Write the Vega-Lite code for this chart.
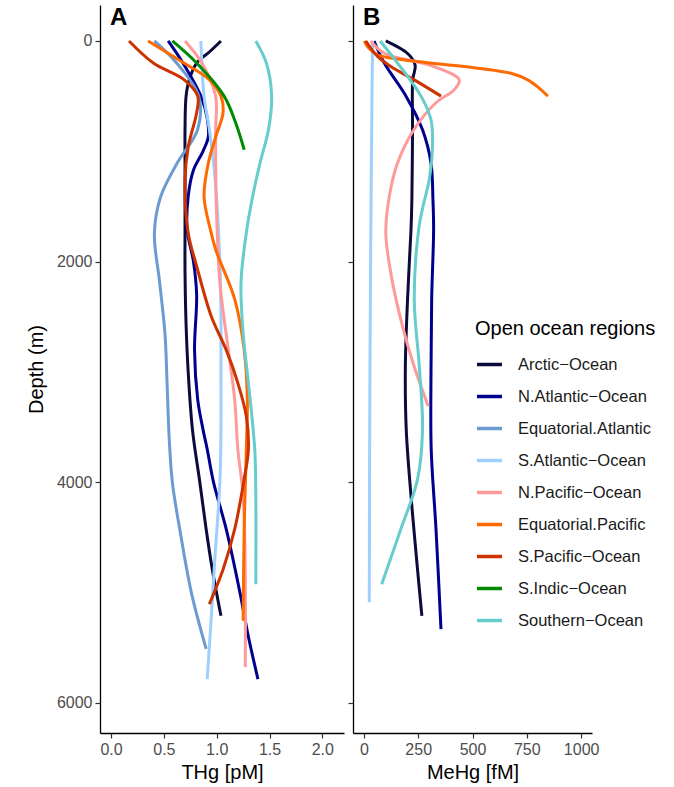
{
  "$schema": "https://vega.github.io/schema/vega-lite/v6.json",
  "padding": {"left": 26, "top": 5, "right": 5, "bottom": 5},
  "spacing": 3,
  "config": {
    "font": "Liberation Sans",
    "view": {"stroke": null},
    "axis": {
      "grid": false,
      "domainColor": "#000000",
      "domainWidth": 1.3,
      "tickColor": "#333333",
      "tickWidth": 1.2,
      "tickSize": 5,
      "labelColor": "#4d4d4d",
      "labelFontSize": 16,
      "labelPadding": 3,
      "titleFontSize": 20,
      "titleFontWeight": "normal",
      "titleColor": "#000000"
    }
  },
  "datasets": {
    "thg": [
      {"region": "Arctic−Ocean", "depth": 0, "thg": 1.04},
      {"region": "Arctic−Ocean", "depth": 100, "thg": 0.93},
      {"region": "Arctic−Ocean", "depth": 200, "thg": 0.81},
      {"region": "Arctic−Ocean", "depth": 350, "thg": 0.74},
      {"region": "Arctic−Ocean", "depth": 500, "thg": 0.71},
      {"region": "Arctic−Ocean", "depth": 800, "thg": 0.70},
      {"region": "Arctic−Ocean", "depth": 1100, "thg": 0.70},
      {"region": "Arctic−Ocean", "depth": 1440, "thg": 0.70},
      {"region": "Arctic−Ocean", "depth": 1710, "thg": 0.70},
      {"region": "Arctic−Ocean", "depth": 2100, "thg": 0.70},
      {"region": "Arctic−Ocean", "depth": 2570, "thg": 0.71},
      {"region": "Arctic−Ocean", "depth": 3000, "thg": 0.73},
      {"region": "Arctic−Ocean", "depth": 3520, "thg": 0.77},
      {"region": "Arctic−Ocean", "depth": 4000, "thg": 0.84},
      {"region": "Arctic−Ocean", "depth": 4425, "thg": 0.90},
      {"region": "Arctic−Ocean", "depth": 4800, "thg": 0.96},
      {"region": "Arctic−Ocean", "depth": 5210, "thg": 1.04},

      {"region": "N.Atlantic−Ocean", "depth": 0, "thg": 0.54},
      {"region": "N.Atlantic−Ocean", "depth": 200, "thg": 0.68},
      {"region": "N.Atlantic−Ocean", "depth": 500, "thg": 0.85},
      {"region": "N.Atlantic−Ocean", "depth": 700, "thg": 0.91},
      {"region": "N.Atlantic−Ocean", "depth": 870, "thg": 0.92},
      {"region": "N.Atlantic−Ocean", "depth": 1000, "thg": 0.87},
      {"region": "N.Atlantic−Ocean", "depth": 1170, "thg": 0.78},
      {"region": "N.Atlantic−Ocean", "depth": 1410, "thg": 0.73},
      {"region": "N.Atlantic−Ocean", "depth": 1710, "thg": 0.72},
      {"region": "N.Atlantic−Ocean", "depth": 2000, "thg": 0.78},
      {"region": "N.Atlantic−Ocean", "depth": 2300, "thg": 0.81},
      {"region": "N.Atlantic−Ocean", "depth": 2800, "thg": 0.79},
      {"region": "N.Atlantic−Ocean", "depth": 3250, "thg": 0.82},
      {"region": "N.Atlantic−Ocean", "depth": 3520, "thg": 0.87},
      {"region": "N.Atlantic−Ocean", "depth": 3700, "thg": 0.91},
      {"region": "N.Atlantic−Ocean", "depth": 4000, "thg": 0.97},
      {"region": "N.Atlantic−Ocean", "depth": 4425, "thg": 1.09},
      {"region": "N.Atlantic−Ocean", "depth": 5000, "thg": 1.22},
      {"region": "N.Atlantic−Ocean", "depth": 5400, "thg": 1.30},
      {"region": "N.Atlantic−Ocean", "depth": 5783, "thg": 1.39},

      {"region": "Equatorial.Atlantic", "depth": 0, "thg": 0.41},
      {"region": "Equatorial.Atlantic", "depth": 200, "thg": 0.62},
      {"region": "Equatorial.Atlantic", "depth": 500, "thg": 0.83},
      {"region": "Equatorial.Atlantic", "depth": 800, "thg": 0.82},
      {"region": "Equatorial.Atlantic", "depth": 1100, "thg": 0.63},
      {"region": "Equatorial.Atlantic", "depth": 1410, "thg": 0.47},
      {"region": "Equatorial.Atlantic", "depth": 1740, "thg": 0.41},
      {"region": "Equatorial.Atlantic", "depth": 2190, "thg": 0.46},
      {"region": "Equatorial.Atlantic", "depth": 2650, "thg": 0.51},
      {"region": "Equatorial.Atlantic", "depth": 3100, "thg": 0.53},
      {"region": "Equatorial.Atlantic", "depth": 3600, "thg": 0.55},
      {"region": "Equatorial.Atlantic", "depth": 4000, "thg": 0.58},
      {"region": "Equatorial.Atlantic", "depth": 4425, "thg": 0.65},
      {"region": "Equatorial.Atlantic", "depth": 5000, "thg": 0.76},
      {"region": "Equatorial.Atlantic", "depth": 5510, "thg": 0.90},

      {"region": "S.Atlantic−Ocean", "depth": 0, "thg": 0.85},
      {"region": "S.Atlantic−Ocean", "depth": 500, "thg": 0.88},
      {"region": "S.Atlantic−Ocean", "depth": 800, "thg": 0.93},
      {"region": "S.Atlantic−Ocean", "depth": 1100, "thg": 0.97},
      {"region": "S.Atlantic−Ocean", "depth": 1440, "thg": 1.00},
      {"region": "S.Atlantic−Ocean", "depth": 2000, "thg": 1.03},
      {"region": "S.Atlantic−Ocean", "depth": 2500, "thg": 1.04},
      {"region": "S.Atlantic−Ocean", "depth": 3000, "thg": 1.04},
      {"region": "S.Atlantic−Ocean", "depth": 3520, "thg": 1.04},
      {"region": "S.Atlantic−Ocean", "depth": 4000, "thg": 1.03},
      {"region": "S.Atlantic−Ocean", "depth": 4726, "thg": 0.98},
      {"region": "S.Atlantic−Ocean", "depth": 5200, "thg": 0.95},
      {"region": "S.Atlantic−Ocean", "depth": 5783, "thg": 0.91},

      {"region": "N.Pacific−Ocean", "depth": 0, "thg": 0.70},
      {"region": "N.Pacific−Ocean", "depth": 200, "thg": 0.86},
      {"region": "N.Pacific−Ocean", "depth": 500, "thg": 0.99},
      {"region": "N.Pacific−Ocean", "depth": 800, "thg": 0.99},
      {"region": "N.Pacific−Ocean", "depth": 1100, "thg": 0.99},
      {"region": "N.Pacific−Ocean", "depth": 1440, "thg": 0.995},
      {"region": "N.Pacific−Ocean", "depth": 2190, "thg": 1.03},
      {"region": "N.Pacific−Ocean", "depth": 2800, "thg": 1.11},
      {"region": "N.Pacific−Ocean", "depth": 3250, "thg": 1.17},
      {"region": "N.Pacific−Ocean", "depth": 3700, "thg": 1.20},
      {"region": "N.Pacific−Ocean", "depth": 4124, "thg": 1.25},
      {"region": "N.Pacific−Ocean", "depth": 4800, "thg": 1.27},
      {"region": "N.Pacific−Ocean", "depth": 5675, "thg": 1.27},

      {"region": "Equatorial.Pacific", "depth": 0, "thg": 0.35},
      {"region": "Equatorial.Pacific", "depth": 200, "thg": 0.69},
      {"region": "Equatorial.Pacific", "depth": 350, "thg": 0.93},
      {"region": "Equatorial.Pacific", "depth": 500, "thg": 1.04},
      {"region": "Equatorial.Pacific", "depth": 650, "thg": 1.06},
      {"region": "Equatorial.Pacific", "depth": 870, "thg": 0.99},
      {"region": "Equatorial.Pacific", "depth": 1110, "thg": 0.92},
      {"region": "Equatorial.Pacific", "depth": 1410, "thg": 0.88},
      {"region": "Equatorial.Pacific", "depth": 1710, "thg": 0.94},
      {"region": "Equatorial.Pacific", "depth": 1890, "thg": 0.99},
      {"region": "Equatorial.Pacific", "depth": 2340, "thg": 1.17},
      {"region": "Equatorial.Pacific", "depth": 2800, "thg": 1.26},
      {"region": "Equatorial.Pacific", "depth": 3250, "thg": 1.29},
      {"region": "Equatorial.Pacific", "depth": 3700, "thg": 1.28},
      {"region": "Equatorial.Pacific", "depth": 4425, "thg": 1.26},
      {"region": "Equatorial.Pacific", "depth": 5255, "thg": 1.25},

      {"region": "S.Pacific−Ocean", "depth": 0, "thg": 0.17},
      {"region": "S.Pacific−Ocean", "depth": 200, "thg": 0.40},
      {"region": "S.Pacific−Ocean", "depth": 350, "thg": 0.69},
      {"region": "S.Pacific−Ocean", "depth": 500, "thg": 0.82},
      {"region": "S.Pacific−Ocean", "depth": 650, "thg": 0.81},
      {"region": "S.Pacific−Ocean", "depth": 960, "thg": 0.73},
      {"region": "S.Pacific−Ocean", "depth": 1260, "thg": 0.70},
      {"region": "S.Pacific−Ocean", "depth": 1740, "thg": 0.73},
      {"region": "S.Pacific−Ocean", "depth": 2040, "thg": 0.81},
      {"region": "S.Pacific−Ocean", "depth": 2500, "thg": 0.95},
      {"region": "S.Pacific−Ocean", "depth": 2800, "thg": 1.09},
      {"region": "S.Pacific−Ocean", "depth": 3100, "thg": 1.20},
      {"region": "S.Pacific−Ocean", "depth": 3400, "thg": 1.28},
      {"region": "S.Pacific−Ocean", "depth": 3700, "thg": 1.30},
      {"region": "S.Pacific−Ocean", "depth": 3970, "thg": 1.26},
      {"region": "S.Pacific−Ocean", "depth": 4425, "thg": 1.17},
      {"region": "S.Pacific−Ocean", "depth": 4790, "thg": 1.06},
      {"region": "S.Pacific−Ocean", "depth": 5104, "thg": 0.93},

      {"region": "S.Indic−Ocean", "depth": 0, "thg": 0.58},
      {"region": "S.Indic−Ocean", "depth": 200, "thg": 0.81},
      {"region": "S.Indic−Ocean", "depth": 500, "thg": 1.07},
      {"region": "S.Indic−Ocean", "depth": 744, "thg": 1.18},
      {"region": "S.Indic−Ocean", "depth": 986, "thg": 1.26},

      {"region": "Southern−Ocean", "depth": 0, "thg": 1.37},
      {"region": "Southern−Ocean", "depth": 200, "thg": 1.47},
      {"region": "Southern−Ocean", "depth": 500, "thg": 1.52},
      {"region": "Southern−Ocean", "depth": 805, "thg": 1.49},
      {"region": "Southern−Ocean", "depth": 1107, "thg": 1.41},
      {"region": "Southern−Ocean", "depth": 1410, "thg": 1.34},
      {"region": "Southern−Ocean", "depth": 1740, "thg": 1.28},
      {"region": "Southern−Ocean", "depth": 2190, "thg": 1.23},
      {"region": "Southern−Ocean", "depth": 2650, "thg": 1.25},
      {"region": "Southern−Ocean", "depth": 3100, "thg": 1.30},
      {"region": "Southern−Ocean", "depth": 3700, "thg": 1.36},
      {"region": "Southern−Ocean", "depth": 4124, "thg": 1.37},
      {"region": "Southern−Ocean", "depth": 4923, "thg": 1.37}
    ],
    "mehg": [
      {"region": "Arctic−Ocean", "depth": 0, "mehg": 101},
      {"region": "Arctic−Ocean", "depth": 120, "mehg": 205},
      {"region": "Arctic−Ocean", "depth": 220, "mehg": 236},
      {"region": "Arctic−Ocean", "depth": 350, "mehg": 225},
      {"region": "Arctic−Ocean", "depth": 805, "mehg": 224},
      {"region": "Arctic−Ocean", "depth": 1440, "mehg": 221},
      {"region": "Arctic−Ocean", "depth": 1710, "mehg": 217},
      {"region": "Arctic−Ocean", "depth": 2344, "mehg": 201},
      {"region": "Arctic−Ocean", "depth": 2948, "mehg": 191},
      {"region": "Arctic−Ocean", "depth": 3520, "mehg": 195},
      {"region": "Arctic−Ocean", "depth": 4124, "mehg": 217},
      {"region": "Arctic−Ocean", "depth": 4726, "mehg": 244},
      {"region": "Arctic−Ocean", "depth": 5210, "mehg": 267},

      {"region": "N.Atlantic−Ocean", "depth": 0, "mehg": 47},
      {"region": "N.Atlantic−Ocean", "depth": 200, "mehg": 94},
      {"region": "N.Atlantic−Ocean", "depth": 500, "mehg": 194},
      {"region": "N.Atlantic−Ocean", "depth": 805, "mehg": 270},
      {"region": "N.Atlantic−Ocean", "depth": 1107, "mehg": 309},
      {"region": "N.Atlantic−Ocean", "depth": 1440, "mehg": 318},
      {"region": "N.Atlantic−Ocean", "depth": 1710, "mehg": 321},
      {"region": "N.Atlantic−Ocean", "depth": 2344, "mehg": 312},
      {"region": "N.Atlantic−Ocean", "depth": 3000, "mehg": 309},
      {"region": "N.Atlantic−Ocean", "depth": 3700, "mehg": 310},
      {"region": "N.Atlantic−Ocean", "depth": 4425, "mehg": 332},
      {"region": "N.Atlantic−Ocean", "depth": 5331, "mehg": 355},

      {"region": "S.Atlantic−Ocean", "depth": 0, "mehg": 40},
      {"region": "S.Atlantic−Ocean", "depth": 1000, "mehg": 35},
      {"region": "S.Atlantic−Ocean", "depth": 2000, "mehg": 31},
      {"region": "S.Atlantic−Ocean", "depth": 3000, "mehg": 28},
      {"region": "S.Atlantic−Ocean", "depth": 4000, "mehg": 26},
      {"region": "S.Atlantic−Ocean", "depth": 5088, "mehg": 25},

      {"region": "N.Pacific−Ocean", "depth": 0, "mehg": 32},
      {"region": "N.Pacific−Ocean", "depth": 109, "mehg": 92},
      {"region": "N.Pacific−Ocean", "depth": 232, "mehg": 323},
      {"region": "N.Pacific−Ocean", "depth": 353, "mehg": 439},
      {"region": "N.Pacific−Ocean", "depth": 444, "mehg": 415},
      {"region": "N.Pacific−Ocean", "depth": 560, "mehg": 332},
      {"region": "N.Pacific−Ocean", "depth": 805, "mehg": 230},
      {"region": "N.Pacific−Ocean", "depth": 1107, "mehg": 155},
      {"region": "N.Pacific−Ocean", "depth": 1409, "mehg": 117},
      {"region": "N.Pacific−Ocean", "depth": 1740, "mehg": 101},
      {"region": "N.Pacific−Ocean", "depth": 2190, "mehg": 132},
      {"region": "N.Pacific−Ocean", "depth": 2646, "mehg": 186},
      {"region": "N.Pacific−Ocean", "depth": 2948, "mehg": 231},
      {"region": "N.Pacific−Ocean", "depth": 3310, "mehg": 296},

      {"region": "Equatorial.Pacific", "depth": 0, "mehg": 2},
      {"region": "Equatorial.Pacific", "depth": 60, "mehg": 20},
      {"region": "Equatorial.Pacific", "depth": 127, "mehg": 63},
      {"region": "Equatorial.Pacific", "depth": 187, "mehg": 247},
      {"region": "Equatorial.Pacific", "depth": 232, "mehg": 461},
      {"region": "Equatorial.Pacific", "depth": 293, "mehg": 677},
      {"region": "Equatorial.Pacific", "depth": 353, "mehg": 754},
      {"region": "Equatorial.Pacific", "depth": 429, "mehg": 808},
      {"region": "Equatorial.Pacific", "depth": 500, "mehg": 847},

      {"region": "S.Pacific−Ocean", "depth": 0, "mehg": 9},
      {"region": "S.Pacific−Ocean", "depth": 140, "mehg": 63},
      {"region": "S.Pacific−Ocean", "depth": 232, "mehg": 124},
      {"region": "S.Pacific−Ocean", "depth": 353, "mehg": 232},
      {"region": "S.Pacific−Ocean", "depth": 500, "mehg": 355},

      {"region": "Southern−Ocean", "depth": 0, "mehg": 75},
      {"region": "Southern−Ocean", "depth": 200, "mehg": 155},
      {"region": "Southern−Ocean", "depth": 500, "mehg": 263},
      {"region": "Southern−Ocean", "depth": 715, "mehg": 309},
      {"region": "Southern−Ocean", "depth": 957, "mehg": 316},
      {"region": "Southern−Ocean", "depth": 1258, "mehg": 301},
      {"region": "Southern−Ocean", "depth": 1500, "mehg": 272},
      {"region": "Southern−Ocean", "depth": 1710, "mehg": 252},
      {"region": "Southern−Ocean", "depth": 2344, "mehg": 232},
      {"region": "Southern−Ocean", "depth": 2948, "mehg": 255},
      {"region": "Southern−Ocean", "depth": 3520, "mehg": 270},
      {"region": "Southern−Ocean", "depth": 3973, "mehg": 247},
      {"region": "Southern−Ocean", "depth": 4425, "mehg": 170},
      {"region": "Southern−Ocean", "depth": 4923, "mehg": 82}
    ]
  },
  "resolve": {"legend": {"color": "independent"}},
  "hconcat": [
    {
      "width": 244,
      "height": 728,
      "title": {"text": "A", "anchor": "start", "frame": "group", "offset": -25, "dx": 10, "fontSize": 24, "fontWeight": "bold", "color": "#000000"},
      "layer": [
        {
          "data": {"name": "thg"},
          "mark": {"type": "line", "strokeWidth": 3, "strokeCap": "butt", "interpolate": "catmull-rom"},
          "encoding": {
            "x": {"field": "thg", "type": "quantitative", "scale": {"domain": [-0.105, 2.205], "nice": false, "zero": false}, "axis": {"title": "THg [pM]", "values": [0, 0.5, 1, 1.5, 2], "format": ".1f", "titlePadding": 5}},
            "y": {"field": "depth", "type": "quantitative", "scale": {"domain": [-326, 6272], "reverse": true, "nice": false, "zero": false}, "axis": {"title": "Depth (m)", "values": [0, 2000, 4000, 6000], "format": "d", "titlePadding": 10}},
            "color": {"field": "region", "type": "nominal", "scale": {"domain": ["Arctic−Ocean", "N.Atlantic−Ocean", "Equatorial.Atlantic", "S.Atlantic−Ocean", "N.Pacific−Ocean", "Equatorial.Pacific", "S.Pacific−Ocean", "S.Indic−Ocean", "Southern−Ocean"], "range": ["#0b0b3d", "#00008f", "#6b9bd1", "#9ecfff", "#ff9a9a", "#ff6a00", "#cc3300", "#008a00", "#66cccc"]}, "legend": null},
            "order": {"field": "depth", "type": "quantitative"}
          }
        },
        {
          "mark": {"type": "rule", "strokeDash": [8, 6], "strokeWidth": 1.4, "color": "#333333"},
          "encoding": {"y": {"datum": 500, "type": "quantitative"}}
        }
      ]
    },
    {
      "width": 239,
      "height": 728,
      "title": {"text": "B", "anchor": "start", "frame": "group", "offset": -25, "dx": 10, "fontSize": 24, "fontWeight": "bold", "color": "#000000"},
      "layer": [
        {
          "data": {"name": "mehg"},
          "mark": {"type": "line", "strokeWidth": 3, "strokeCap": "butt", "interpolate": "catmull-rom"},
          "encoding": {
            "x": {"field": "mehg", "type": "quantitative", "scale": {"domain": [-50, 1050], "nice": false, "zero": false}, "axis": {"title": "MeHg [fM]", "values": [0, 250, 500, 750, 1000], "format": "d", "titlePadding": 5}},
            "y": {"field": "depth", "type": "quantitative", "scale": {"domain": [-326, 6272], "reverse": true, "nice": false, "zero": false}, "axis": {"title": null, "labels": false, "values": [0, 2000, 4000, 6000]}},
            "color": {"field": "region", "type": "nominal", "scale": {"domain": ["Arctic−Ocean", "N.Atlantic−Ocean", "Equatorial.Atlantic", "S.Atlantic−Ocean", "N.Pacific−Ocean", "Equatorial.Pacific", "S.Pacific−Ocean", "S.Indic−Ocean", "Southern−Ocean"], "range": ["#0b0b3d", "#00008f", "#6b9bd1", "#9ecfff", "#ff9a9a", "#ff6a00", "#cc3300", "#008a00", "#66cccc"]},
              "legend": {"orient": "none", "legendX": 122, "legendY": 314, "title": "Open ocean regions", "titleLimit": 400, "labelLimit": 400, "titleFontSize": 20, "titleFontWeight": "normal", "titleColor": "#000000", "titlePadding": 11, "labelFontSize": 16.5, "labelColor": "#1a1a1a", "symbolType": "stroke", "symbolStrokeWidth": 3.5, "symbolSize": 625, "rowPadding": 9, "labelOffset": 14}},
            "order": {"field": "depth", "type": "quantitative"}
          }
        },
        {
          "mark": {"type": "rule", "strokeDash": [8, 6], "strokeWidth": 1.4, "color": "#333333"},
          "encoding": {"y": {"datum": 500, "type": "quantitative"}}
        }
      ]
    }
  ]
}
